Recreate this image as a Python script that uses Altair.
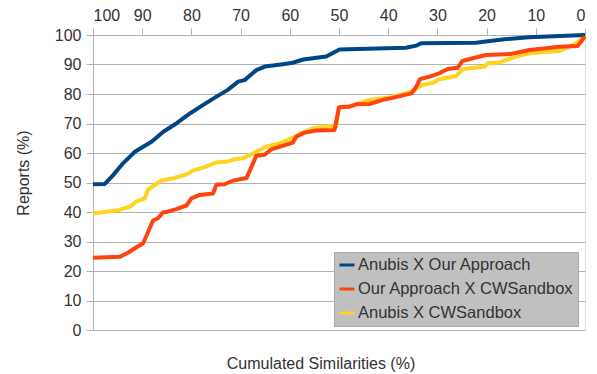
import altair as alt
import pandas as pd

series_names = ["Anubis X Our Approach", "Our Approach X CWSandbox", "Anubis X CWSandbox"]
series_colors = ["#004586", "#ff420e", "#ffd320"]

blue_x = [100, 97.6, 95.9, 93.9, 91.5, 89.8, 88.1, 85.7, 83.0, 80.3, 77.6, 74.9, 72.6, 70.5, 69.2,
          66.8, 65.1, 61.4, 59.4, 57.3, 52.6, 49.9, 36.4, 34.3, 33.3, 22.2, 16.8, 11.4, 0]
blue_y = [49.4, 49.5, 52.5, 56.5, 60.4, 62.1, 63.8, 67.2, 70.1, 73.4, 76.3, 79.1, 81.4, 84.2, 84.7,
          88.1, 89.3, 90.1, 90.6, 91.7, 92.7, 95.1, 95.7, 96.4, 97.2, 97.4, 98.5, 99.2, 100]

orange_x = [100, 94.6, 92.9, 91.5, 89.8, 87.8, 86.8, 85.8, 84.8, 83.1, 81.0, 80.0, 78.3, 75.6, 74.9,
            73.3, 71.6, 68.8, 66.8, 65.1, 63.8, 62.1, 59.4, 58.7, 57.0, 54.6, 50.9, 50.0, 47.9, 46.5,
            43.8, 41.1, 39.1, 35.3, 34.5, 33.5, 31.6, 29.6, 27.9, 25.9, 24.9, 22.8, 20.1, 15.0, 11.3,
            7.9, 5.2, 1.5, 0]
orange_y = [24.5, 24.8, 26.2, 27.7, 29.4, 37.1, 37.9, 39.8, 40.1, 41.0, 42.2, 44.6, 45.8, 46.3, 49.2,
            49.4, 50.6, 51.5, 59.1, 59.4, 61.2, 62.1, 63.5, 65.5, 66.9, 67.6, 67.8, 75.5, 75.7, 76.5,
            76.6, 78.0, 78.7, 80.2, 81.9, 85.1, 85.9, 87.0, 88.5, 88.9, 91.2, 92.1, 93.2, 93.6, 94.9,
            95.5, 96.0, 96.3, 99.5]

yellow_x = [100, 94.6, 92.5, 91.2, 89.5, 88.8, 86.1, 83.8, 81.0, 79.7, 77.0, 74.9, 72.6, 71.2, 69.5,
            66.8, 64.8, 62.1, 59.4, 57.7, 55.3, 51.3, 50.6, 50.0, 47.5, 43.8, 39.1, 35.3, 33.0, 30.9,
            29.6, 26.2, 24.9, 20.4, 19.8, 17.4, 14.0, 11.3, 5.2, 3.9, 1.8, 0]
yellow_y = [39.5, 40.7, 41.8, 43.5, 44.6, 47.7, 50.6, 51.4, 52.8, 54.0, 55.4, 56.8, 57.1, 57.9, 58.2,
            60.4, 62.1, 63.2, 65.2, 66.7, 68.4, 69.2, 69.0, 75.5, 76.0, 78.0, 79.0, 80.8, 83.1, 83.8,
            85.0, 86.1, 88.4, 89.3, 90.4, 90.7, 92.7, 93.8, 94.6, 95.5, 97.2, 99.7]

tick_values = list(range(0, 101, 10))

rows = []
for name, xs, ys in zip(series_names, [blue_x, orange_x, yellow_x], [blue_y, orange_y, yellow_y]):
    for i, (xv, yv) in enumerate(zip(xs, ys)):
        rows.append({"series": name, "sim": xv, "reports": yv, "idx": i})
df = pd.DataFrame(rows)

FONT = "Liberation Sans"
GRID = "#b3b3b3"
TEXT = "#333333"

base = alt.Chart(df).mark_line(strokeWidth=4, strokeJoin="round").encode(
    x=alt.X("sim:Q",
            scale=alt.Scale(domain=[0, 100], reverse=True, nice=False),
            axis=alt.Axis(orient="top", values=tick_values, title=None, grid=False,
                          tickSize=7, labelPadding=5, labelFontSize=16, labelFont=FONT,
                          labelColor=TEXT, tickColor=GRID, domainColor=GRID)),
    y=alt.Y("reports:Q",
            scale=alt.Scale(domain=[0, 100], nice=False),
            axis=alt.Axis(values=tick_values, title="Reports (%)", grid=True, gridColor=GRID,
                          tickSize=7, labelPadding=5, labelFontSize=16, labelFont=FONT,
                          labelColor=TEXT, tickColor=GRID, domainColor=GRID,
                          titleFont=FONT, titleFontSize=16, titleFontWeight="normal",
                          titleColor=TEXT, titleX=-70, titleY=137.5, titleAngle=270,
                          titleAlign="center", titleBaseline="middle")),
    color=alt.Color("series:N",
                    scale=alt.Scale(domain=series_names, range=series_colors),
                    legend=alt.Legend(title=None, orient="none", legendX=241, legendY=217,
                                      fillColor="#c0c0c0", strokeColor="#a8a8a8",
                                      padding=4, symbolType="stroke", symbolSize=225,
                                      symbolStrokeWidth=3, labelFontSize=16.5, labelFont=FONT,
                                      labelColor=TEXT, rowPadding=6, labelLimit=0,
                                      labelOffset=2)),
    order="idx:Q",
)

layers = [base.transform_filter(alt.datum.series == n) for n in
          ["Anubis X CWSandbox", "Anubis X Our Approach", "Our Approach X CWSandbox"]]

chart = alt.layer(*layers).properties(
    width=492,
    height=295,
    autosize=alt.AutoSizeParams(type="none"),
    padding={"left": 85, "top": 27, "right": 4, "bottom": 44},
    title=alt.TitleParams("Cumulated Similarities (%)", orient="bottom", anchor="middle",
                          dx=-18, offset=18, fontSize=16, fontWeight="normal", font=FONT,
                          color=TEXT),
).configure_view(stroke=GRID, strokeWidth=1).configure(background="white")

chart.save("out.html", embed_options={"renderer": "svg", "actions": False})
